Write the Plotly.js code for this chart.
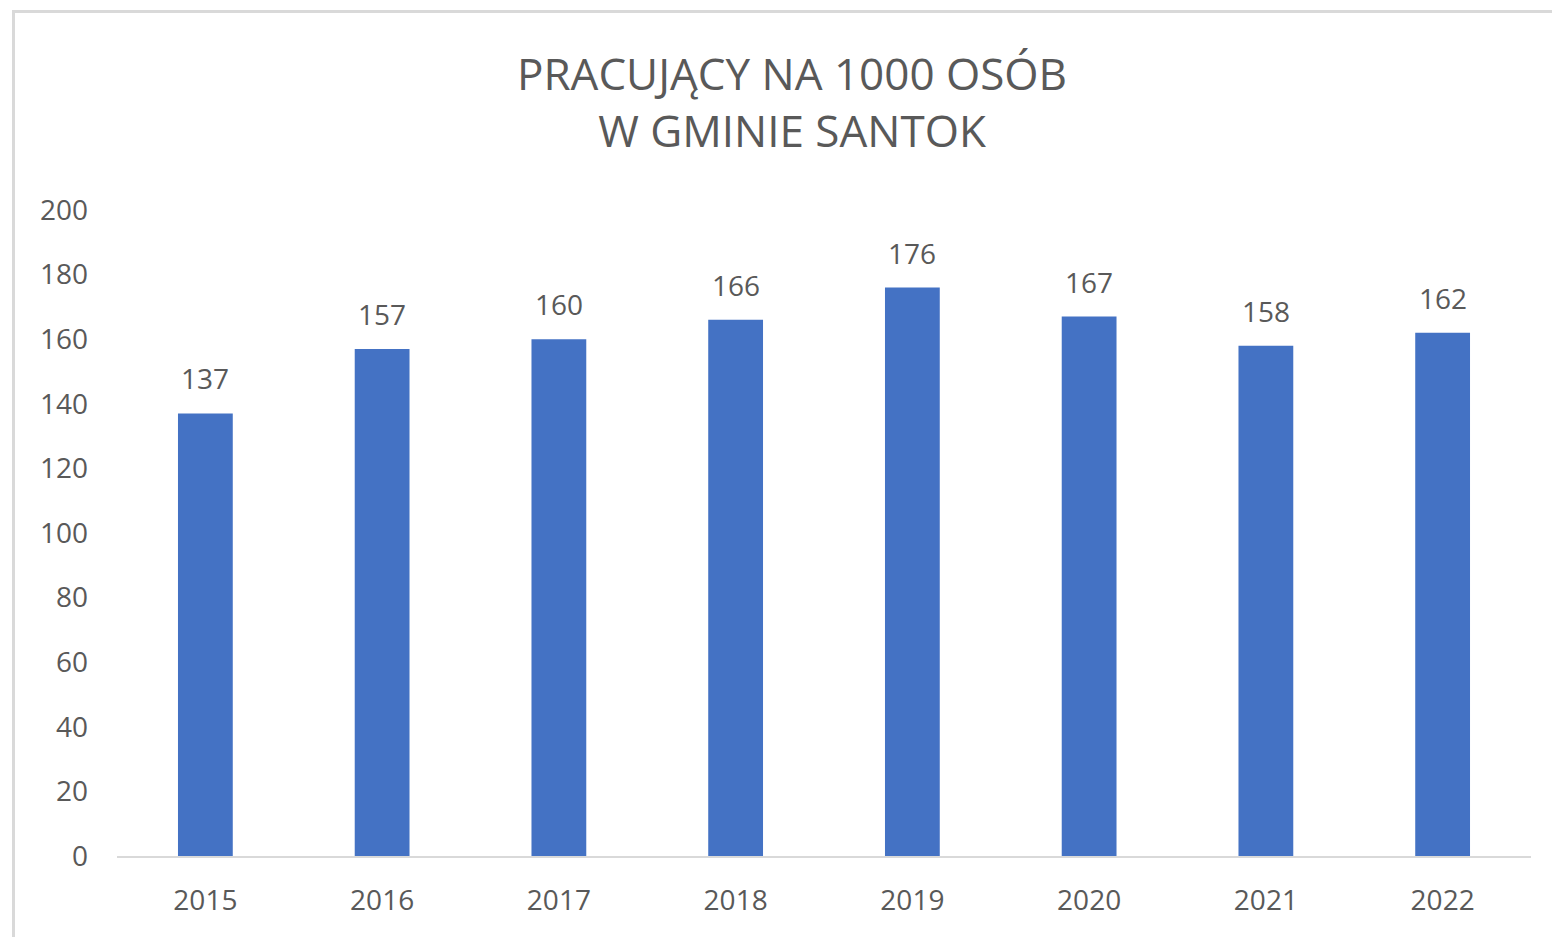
<!DOCTYPE html>
<html>
<head>
<meta charset="utf-8">
<script src="https://cdn.plot.ly/plotly-3.0.1.min.js"></script>
<style>
  html, body { margin: 0; padding: 0; background: #ffffff; width: 1552px; height: 937px; overflow: hidden; }
  #frame { position: absolute; left: 12px; top: 10px; width: 1600px; height: 1000px;
           border-left: 3px solid #d9d9d9; border-top: 3px solid #d9d9d9; box-sizing: border-box; }
  #chart { position: absolute; left: 0; top: 0; width: 1552px; height: 937px; }
</style>
</head>
<body>
<div id="frame"></div>
<div id="chart"></div>
<script>
const years = ["2015", "2016", "2017", "2018", "2019", "2020", "2021", "2022"];
const values = [137, 157, 160, 166, 176, 167, 158, 162];
const yTicks = [0, 20, 40, 60, 80, 100, 120, 140, 160, 180, 200];

const FONT = "Open Sans, Liberation Sans, sans-serif";
const TXT = "#595959";

const trace = {
  type: "bar",
  x: years,
  y: values,
  marker: { color: "#4472C4" },
  hoverinfo: "x+y"
};

const annotations = years.map((yr, i) => ({
  x: i, y: values[i], xref: "x", yref: "y",
  text: String(values[i]), showarrow: false,
  yanchor: "bottom", yshift: 14,
  font: { family: FONT, size: 28, color: TXT }
}));

const layout = {
  width: 1552, height: 937,
  paper_bgcolor: "rgba(0,0,0,0)",
  plot_bgcolor: "rgba(0,0,0,0)",
  margin: { l: 117, r: 21, t: 210, b: 81 },
  bargap: 0.69,
  showlegend: false,
  title: {
    text: "PRACUJĄCY NA 1000 OSÓB<br>W GMINIE SANTOK",
    xref: "container", yref: "container",
    x: 792 / 1552, xanchor: "center",
    y: 1 - 90 / 937, yanchor: "top",
    font: { family: FONT, size: 44, color: TXT }
  },
  xaxis: {
    type: "category",
    range: [-0.5, years.length - 0.5],
    showgrid: false, zeroline: false,
    showline: true, linecolor: "#d9d9d9", linewidth: 2,
    ticks: "", ticklabelstandoff: 18,
    tickfont: { family: FONT, size: 28, color: TXT }
  },
  yaxis: {
    range: [0, 200],
    tickvals: yTicks,
    ticktext: yTicks.map(String),
    showgrid: false, zeroline: false, showline: false,
    ticks: "", ticklabelstandoff: 28,
    tickfont: { family: FONT, size: 28, color: TXT }
  },
  annotations: annotations
};

Plotly.newPlot("chart", [trace], layout, { displayModeBar: false, staticPlot: true });
</script>
</body>
</html>
